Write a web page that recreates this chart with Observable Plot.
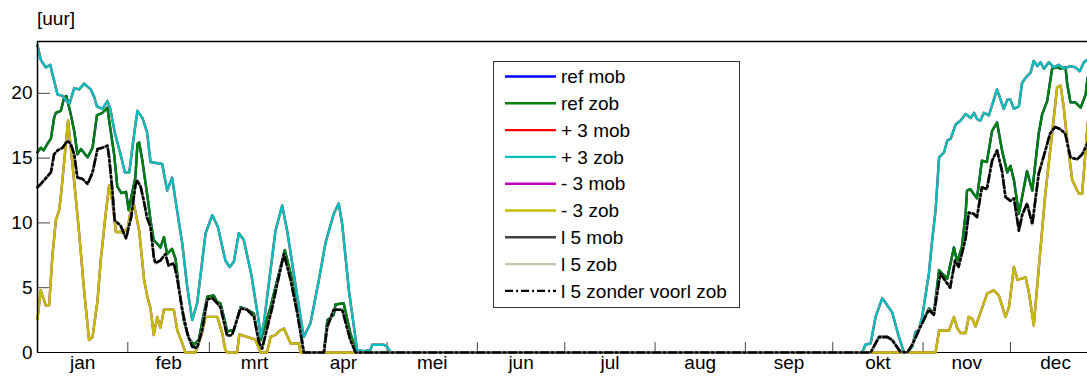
<!DOCTYPE html>
<html>
<head>
<meta charset="utf-8">
<script src="https://cdn.jsdelivr.net/npm/d3@7"></script>
<script src="https://cdn.jsdelivr.net/npm/@observablehq/plot@0.6"></script>
<style>
  body { margin: 0; background: #fff; overflow: hidden; font-family: "Liberation Sans", Arial, sans-serif; }
  #wrap { position: relative; width: 1087px; height: 381px; }
  #unit { position: absolute; left: 37px; top: 8px; font-size: 19px; color: #000; }
  #legend { position: absolute; left: 493px; top: 61px; width: 245px; height: 245px;
            border: 1px solid #333; background: #fff; }
  #legend svg { display: block; }
</style>
</head>
<body>
<div id="wrap">
  <div id="chart"></div>
  <div id="unit">[uur]</div>
  <div id="legend"></div>
</div>
<script>
// Hours per day, by day of year (0 = 1 januari)
const refDays  = [0,1.1,2.1,3.4,4.6,5.7,6.3,8.0,9.2,9.9,11.4,12.6,13.7,14.9,17.2,18.9,20.4,22.3,24.0,24.6,26.3,27.4,28.8,30.4,31.3,32.5,33.6,34.3,34.9,36.0,37.0,37.9,38.8,39.9,41.1,42.2,43.4,44.5,46.2,47.4,48.5,50.2,51.9,53.7,55.4,57.1,58.3,60.5,61.7,62.8,64.5,65.1,66.3,67.4,69.7,72.0,74.3,75.4,76.6,80.0,82.3,84.9,86.9,89.2,91.4,98.3,99.5,101.7,102.3,105.1,107.4,109.2,110,286,288.9,291.7,293.4,296.2,298.6,300.3,303.1,306.0,307.7,309.5,312.3,314.6,315.7,317.3,318.6,319.1,320.2,322.5,324.2,325.9,327.7,329.4,331.1,332.9,334.0,335.2,336.9,338.0,339.7,341.5,343.7,344.9,346.6,348.3,350.0,351.2,352.9,353.5,354.6,356.3,358.1,359.8,360.4,361];
const refHours = [15.45,15.8,15.6,16.1,16.5,18.1,18.5,18.65,19.7,19.8,18.4,17.1,15.3,15.7,15.06,15.8,18.3,18.5,18.9,17.9,15.3,12.8,12.3,12.4,11.0,12.3,13.5,16.1,16.2,14.8,13.2,11.8,10.2,8.65,8.4,8.1,8.9,7.6,8.0,7.2,5.06,2.5,1.1,0.6,1.0,3.0,4.3,4.4,3.9,3.8,2.25,1.6,1.7,1.7,3.5,3.3,3.0,1.5,0.96,3.5,5.6,7.9,6.1,3.5,0,0,2.5,2.9,3.7,3.8,1.5,0.2,0,0,1.2,1.2,0.96,0.06,0,0.6,2.0,3.4,3.0,6.35,5.7,8.1,7.0,8.1,10.7,12.5,12.6,11.9,14.8,14.7,17.1,17.75,15.6,13.9,14.4,13.3,10.7,12.0,14.0,12.5,16.9,18.4,19.4,21.9,22.0,21.9,22.0,20.7,19.3,19.3,18.9,19.9,21.1,21.6];

const plusDays  = [0,1.1,2.8,4.4,5.1,6.9,8.6,9.7,11.0,12.6,14.3,16.0,18.3,19.5,20.4,22.3,24.0,25.0,26.5,28.6,30.0,31.5,33.2,34.3,36.0,37.6,38.8,42.8,44.5,46.2,47.4,49.7,51.4,53.1,54.8,57.7,60.0,61.9,64.5,66.0,67.4,69.1,70.8,73.4,75.9,76.6,77.7,81.7,84.0,85.7,89.2,91.4,93.7,96.6,98.9,101.7,103.4,104.6,106.9,109.7,112.0,114.3,114.9,118.9,120.0,121.2,283.1,284.2,286.0,287.7,290.0,291.7,293.4,295.7,297.4,298.6,300.3,301.4,302.5,303.7,306.0,307.1,308.3,309.5,311.2,312.3,313.5,315.2,316.9,318.6,320.4,321.5,322.6,323.7,324.9,326.6,329.4,331.7,332.9,334.0,335.2,336.9,338.0,339.2,340.9,342.0,343.2,344.3,345.5,347.2,348.9,350.6,352.3,354.6,356.3,357.8,359.2,360.4,361];
const plusHours = [23.7,22.6,22.0,22.2,21.5,19.9,19.8,19.5,19.2,20.4,20.3,20.75,20.3,19.7,19.0,18.8,19.4,18.8,17.0,15.2,13.9,13.9,16.9,18.65,18.1,17.0,14.7,14.55,12.5,13.5,11.7,8.4,5.06,2.5,3.8,9.2,10.6,9.7,7.1,6.6,7.0,9.2,8.7,6.0,2.5,1.2,2.25,9.4,11.35,9.4,4.3,1.2,2.25,5.6,8.5,10.7,11.5,9.9,4.8,0.2,0.1,0.2,0.6,0.6,0.45,0,0,0.6,0.7,2.75,4.2,3.65,3.1,1.2,0.05,0,0.45,1.6,1.7,2.75,6.1,8.6,11.0,15.06,15.45,16.35,16.5,17.6,17.9,18.4,18.1,18.5,18.0,17.9,18.5,18.3,20.3,18.8,19.5,19.5,18.8,19.0,20.8,21.2,21.6,22.5,22.1,22.4,21.9,22.4,22.0,22.2,21.9,22.1,22.0,21.7,22.4,22.6,22.7];

const minDays  = [0,1.1,2.8,4.0,5.1,6.3,7.4,8.0,10.5,12.9,14.1,16.0,17.7,18.9,20.6,21.7,23.4,24.6,25.7,26.9,29.2,30.9,32.0,33.2,34.9,36.6,37.7,38.8,39.9,41.1,42.2,43.4,46.8,48.0,49.7,50.8,54.2,56.5,57.7,61.7,63.4,64.5,65.1,68.5,69.3,74.8,76.6,78.8,80.0,81.7,83.2,84.6,86.9,89.7,90.3,308.3,309.5,312.9,314.6,315.7,316.9,318.6,319.7,320.9,322.0,323.2,326.0,328.3,330.0,332.3,333.5,335.2,336.4,339.2,340.4,342.0,344.3,346.0,348.3,350.0,351.2,352.3,353.5,355.2,357.5,358.6,359.8,360.4,361];
const minHours = [2.6,4.8,3.65,3.65,7.4,10.2,10.96,12.0,17.9,12.5,9.7,4.8,0.96,1.2,4.0,7.1,10.7,12.9,11.7,9.3,9.3,9.55,10.96,11.35,9.4,5.6,4.3,3.4,1.35,2.75,1.9,3.3,3.3,1.7,0.7,0,0,1.5,2.75,2.75,1.5,0.2,0,0,1.4,1.0,0,0,1.2,1.35,1.7,1.85,0.7,0.7,0,0,1.7,1.7,2.75,1.9,1.5,1.5,2.75,2.6,2.0,2.75,4.55,4.8,4.4,2.75,3.5,6.6,5.6,5.8,4.55,2.1,8.0,12.3,16.9,20.45,20.6,18.9,16.35,13.3,12.25,12.25,15.6,17.4,18.5];

const l5Days  = [0,1.1,2.3,4.6,5.7,6.9,8.6,10.3,11.4,12.6,13.7,15.4,17.2,18.9,20.6,22.3,24.0,24.6,25.7,26.5,28.5,30.4,32.2,33.6,34.2,35.4,36.5,37.6,38.8,39.9,40.5,42.2,43.9,45.0,46.8,47.9,49.7,51.4,53.1,54.8,56.5,58.3,60.0,61.7,62.8,65.1,66.8,69.7,72.0,74.3,76.0,77.1,80.6,82.3,84.6,86.9,89.2,91.4,98.3,99.5,101.7,104.6,107.4,109.2,286.0,288.9,291.7,293.4,296.2,298.6,300.3,303.1,306.0,307.7,309.9,313.3,315.0,316.2,318.6,319.7,321.4,322.5,324.2,325.9,327.7,329.4,331.1,332.3,334.0,335.2,336.9,338.0,339.7,341.5,343.7,346.0,347.6,349.3,351.0,352.8,354.6,356.9,358.6,360.4,361];
const l5Hours = [12.75,13.0,13.3,13.9,15.3,15.6,15.8,16.35,16.1,15.3,13.5,13.4,13.0,13.9,15.7,15.8,15.96,15.06,12.5,10.2,9.8,8.8,10.5,12.9,13.3,12.8,11.7,10.4,9.7,7.4,6.9,7.1,7.6,6.7,6.9,5.8,3.3,1.5,0.45,0.35,1.7,4.1,4.2,3.8,3.5,1.3,1.35,3.4,3.3,2.75,0.8,0.3,3.5,5.3,7.6,5.6,3.0,0,0,2.0,3.3,3.3,0.96,0,0,1.2,1.2,0.96,0.06,0,0.6,2.0,3.3,2.9,6.1,5.0,7.1,6.6,8.8,10.8,10.7,10.45,12.75,12.6,14.8,15.6,14.0,12.0,11.7,11.9,9.4,10.6,11.5,9.9,13.8,15.6,16.9,17.4,17.25,16.9,15.06,14.9,15.3,16.1,16.5];

// Month boundaries (day of year) and axis labels
const monthStarts = [0,31,59,90,120,151,181,212,243,273,304,334,365];
const monthNames  = ["jan","feb","mrt","apr","mei","jun","jul","aug","sep","okt","nov","dec"];
const yTicks = [0,5,10,15,20];

// Series in drawing order (later ones on top)
const seriesNames  = ["ref mob","ref zob","+ 3 mob","+ 3 zob","- 3 mob","- 3 zob","l 5 mob","l 5 zob","l 5 zonder voorl zob"];
const seriesColors = ["#0000ff","#008000","#ff0000","#00bfbf","#bf00bf","#bfbf00","#404040","#c3c7b0","#000000"];
const seriesSource = [[refDays,refHours],[refDays,refHours],[plusDays,plusHours],[plusDays,plusHours],
                      [minDays,minHours],[minDays,minHours],[l5Days,l5Hours],[l5Days,l5Hours],[l5Days,l5Hours]];
const dashed = "8,3,2,3";

const zip = (days, hours) => days.map((d, i) => ({day: d, hours: hours[i]}));
const monthMid = monthNames.map((m, i) => ({day: (monthStarts[i] + monthStarts[i + 1]) / 2, name: m}));

const W = 1087, H = 381, mL = 37, mT = 41, mB = 29;
const font = "'Liberation Sans', Arial, sans-serif";
const lineWidth = 2.4;

const lineMarks = seriesNames.map((name, i) => Plot.line(zip(...seriesSource[i]), {
  x: "day", y: "hours",
  stroke: seriesColors[i],
  strokeWidth: i === 8 ? 2.6 : lineWidth,
  strokeDasharray: i === 8 ? dashed : null,
  strokeLinejoin: "round"
}));

const chart = Plot.plot({
  width: W, height: H,
  marginLeft: mL, marginRight: 0, marginTop: mT, marginBottom: mB,
  x: {domain: [0, 360.45], axis: null},
  y: {domain: [0, 24], axis: null},
  style: {fontFamily: font, fontSize: "19px", background: "#fff", overflow: "hidden"},
  marks: [
    Plot.tickX(monthStarts.slice(1, 12), {x: d => d, stroke: "#444", strokeWidth: 1, insetTop: (H - mT - mB) - 10}),
    Plot.tickY(yTicks.slice(1), {y: d => d, stroke: "#444", strokeWidth: 1, insetRight: (W - mL) - 13}),
    Plot.text(yTicks, {y: d => d, frameAnchor: "left", dx: -5, textAnchor: "end", text: d => String(d), fontSize: 19, fill: "#000"}),
    Plot.text(monthMid, {x: "day", frameAnchor: "bottom", dy: 16, text: "name", fontSize: 19, fill: "#000"}),
    Plot.ruleY([0], {stroke: "#000", strokeWidth: 1}),
    ...lineMarks,
    Plot.ruleX([0], {stroke: "#000", strokeWidth: 1.5}),
    Plot.ruleY([24], {stroke: "#000", strokeWidth: 1.5})
  ]
});
document.getElementById("chart").appendChild(chart);

// Legend
const lg = d3.select("#legend").append("svg").attr("width", 245).attr("height", 245);
const rowY = i => 14.5 + i * 26.8;
seriesNames.forEach((name, i) => {
  lg.append("line")
    .attr("x1", 11).attr("x2", 62).attr("y1", rowY(i)).attr("y2", rowY(i))
    .attr("stroke", seriesColors[i]).attr("stroke-width", lineWidth)
    .attr("stroke-dasharray", i === 8 ? dashed : null);
  lg.append("text")
    .attr("x", 67).attr("y", rowY(i)).attr("dy", "0.35em")
    .attr("font-family", font).attr("font-size", 19).attr("fill", "#000")
    .text(name);
});
</script>
</body>
</html>
